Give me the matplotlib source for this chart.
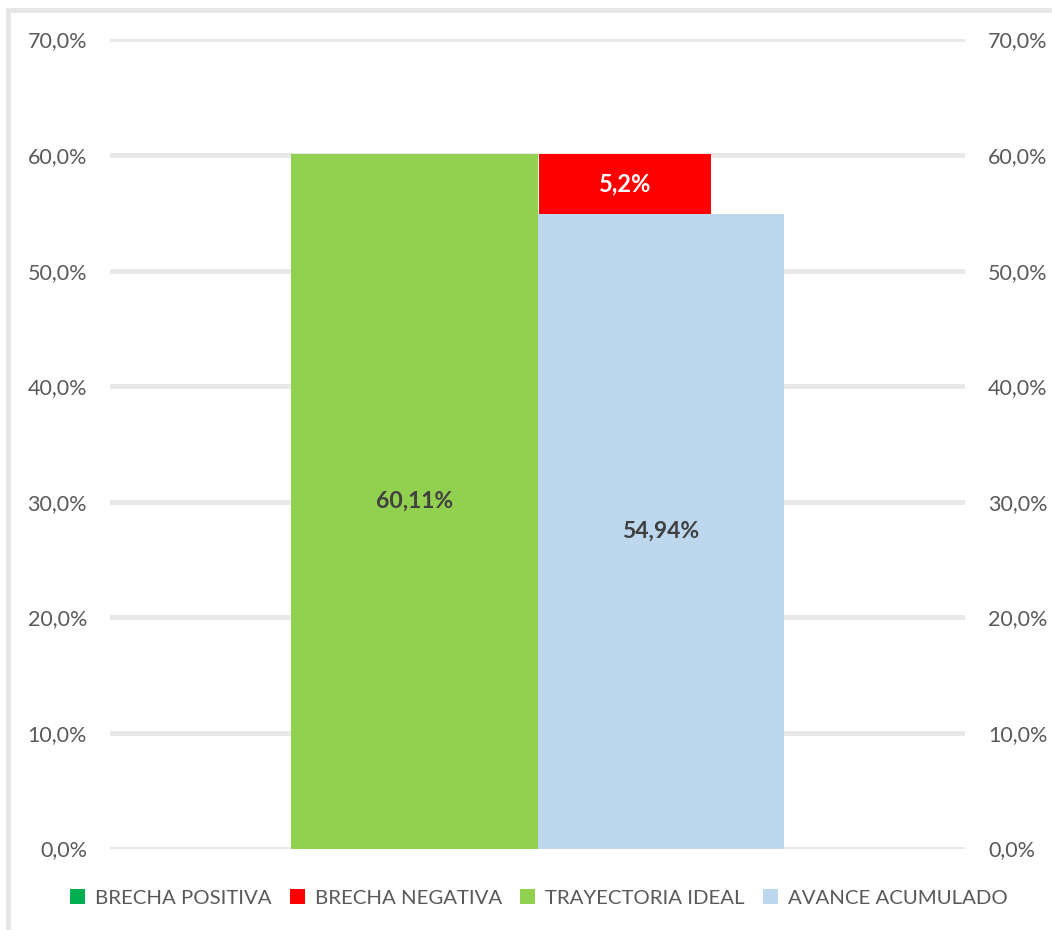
import matplotlib.pyplot as plt
from matplotlib.patches import Patch, Rectangle

plt.rcParams['font.family'] = ['Lato', 'DejaVu Sans']

# data (percent)
trayectoria_ideal = 60.11
avance_acumulado = 54.94
brecha_negativa = trayectoria_ideal - avance_acumulado
brecha_positiva = 0.0

legend_labels = ['BRECHA POSITIVA', 'BRECHA NEGATIVA', 'TRAYECTORIA IDEAL', 'AVANCE ACUMULADO']
colors = ['#00B050', '#FF0000', '#92D050', '#BDD7EE']
yticks = [0, 10, 20, 30, 40, 50, 60, 70]

W, H = 1052, 930
fig = plt.figure(figsize=(W / 100, H / 100), dpi=100)

# chart border (only top/left visible in the crop)
fig.patches.append(Rectangle((7.5 / W, -0.5), 2, 1.5 - 10.5 / H, transform=fig.transFigure,
                             fill=False, edgecolor='#e6e6e6', linewidth=3.6))

ax = fig.add_axes([110 / W, 1 - 848.5 / H, 855 / W, (848.5 - 39.5) / H])
ax2 = ax.twinx()

bw = 0.288
ax.bar(-bw / 2, trayectoria_ideal, width=bw, color=colors[2], zorder=3)
ax.bar(bw / 2, avance_acumulado, width=bw, color=colors[3], zorder=3)
ax.text(-bw / 2, trayectoria_ideal / 2, f"{trayectoria_ideal:.2f}%".replace('.', ','),
        ha='center', va='center', fontsize=16.5, fontweight='bold', color='#404040', zorder=4)
ax.text(bw / 2, avance_acumulado / 2, f"{avance_acumulado:.2f}%".replace('.', ','),
        ha='center', va='center', fontsize=16.5, fontweight='bold', color='#404040', zorder=4)

# gap bars on secondary axis
ax2.bar(0.1023, brecha_negativa, bottom=avance_acumulado, width=0.201, color=colors[1], zorder=3)
ax2.text(0.1023, avance_acumulado + brecha_negativa / 2, f"{brecha_negativa:.1f}%".replace('.', ','),
         ha='center', va='center', fontsize=17, fontweight='bold', color='white')

for a in (ax, ax2):
    a.set_xlim(-0.5, 0.5)
    a.set_ylim(0, 70)
    a.set_yticks(yticks)
    a.set_yticklabels([f"{v:.1f}%".replace('.', ',') for v in yticks])
    a.tick_params(axis='y', length=0, labelsize=15.5, labelcolor='#595959', pad=16.5)
    for s in a.spines.values():
        s.set_visible(False)
ax.set_xticks([])
ax.set_axisbelow(True)
ax.grid(axis='y', color='#e8e8e8', linewidth=3.5, zorder=0)

handles = [Patch(facecolor=c, edgecolor='none') for c in colors]
leg = fig.legend(handles, legend_labels, loc='center', bbox_to_anchor=(539 / W, 1 - 898 / H),
                 ncol=4, frameon=False, handlelength=0.73, handleheight=0.73,
                 handletextpad=0.5, columnspacing=0.9, fontsize=14.7)
for t in leg.get_texts():
    t.set_color('#595959')

fig.savefig('out.png', dpi=100)
